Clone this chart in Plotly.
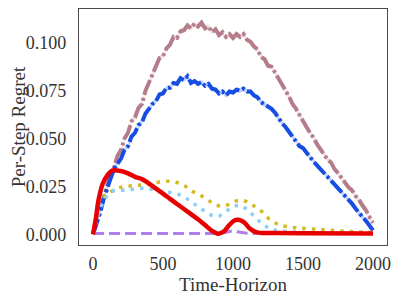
import plotly.graph_objects as go

# ---- data ----
t_noisy = list(range(0, 2001, 25))
mauve = [0.000, 0.006, 0.013, 0.019, 0.025, 0.032, 0.035, 0.041, 0.044, 0.050, 0.053, 0.059,
         0.061, 0.066, 0.068, 0.075, 0.079, 0.083, 0.087, 0.092, 0.093, 0.097, 0.099, 0.103,
         0.1025, 0.106, 0.1065, 0.109, 0.1075, 0.110, 0.1085, 0.1105, 0.1075, 0.1085, 0.1055,
         0.107, 0.104, 0.1055, 0.103, 0.1045, 0.1025, 0.1045, 0.103, 0.1045, 0.1015, 0.1005,
         0.098, 0.0965, 0.0925, 0.0915, 0.088, 0.0875, 0.0845, 0.081, 0.0785, 0.075, 0.072,
         0.068, 0.0655, 0.062, 0.0595, 0.056, 0.053, 0.0505, 0.047, 0.0445, 0.042, 0.039,
         0.0375, 0.034, 0.032, 0.029, 0.027, 0.0245, 0.023, 0.020, 0.018, 0.015, 0.0125,
         0.009, 0.006]
blue = [0.000, 0.005, 0.011, 0.018, 0.024, 0.029, 0.034, 0.037, 0.0395, 0.044, 0.046, 0.051,
        0.053, 0.057, 0.0585, 0.063, 0.0655, 0.068, 0.0695, 0.073, 0.0735, 0.0765, 0.0765,
        0.079, 0.0785, 0.0815, 0.0805, 0.0825, 0.079, 0.080, 0.0785, 0.0795, 0.0775, 0.0785,
        0.076, 0.0755, 0.0735, 0.0745, 0.0725, 0.0745, 0.074, 0.0755, 0.075, 0.076, 0.0745,
        0.0745, 0.0725, 0.0715, 0.069, 0.068, 0.0665, 0.0655, 0.0635, 0.0605, 0.058, 0.056,
        0.0535, 0.051, 0.049, 0.046, 0.045, 0.0425, 0.040, 0.038, 0.036, 0.034, 0.032, 0.030,
        0.0285, 0.026, 0.024, 0.022, 0.020, 0.018, 0.016, 0.0135, 0.011, 0.009, 0.007,
        0.0045, 0.002]

t_yellow = [0, 50, 100, 150, 200, 250, 300, 350, 400, 450, 500, 550, 600, 650, 700, 750, 800,
            850, 900, 950, 1000, 1050, 1100, 1150, 1200, 1250, 1300, 1350, 1400, 1450, 1500,
            1600, 1700, 1800, 1900, 2000]
yellow = [0.0, 0.016, 0.021, 0.023, 0.0245, 0.025, 0.0255, 0.0258, 0.026, 0.027, 0.0275,
          0.0277, 0.027, 0.0255, 0.0228, 0.021, 0.019, 0.0165, 0.0148, 0.015, 0.0168, 0.0178,
          0.017, 0.0148, 0.0122, 0.0085, 0.006, 0.0045, 0.0038, 0.0034, 0.0031, 0.0026,
          0.0021, 0.0016, 0.0012, 0.001]

t_light = [0, 50, 100, 150, 200, 250, 300, 350, 400, 450, 500, 550, 600, 650, 700, 750, 800,
           850, 900, 950, 1000, 1050, 1100, 1150, 1200, 1250, 1300, 1400, 1500, 1700, 2000]
light = [0.0, 0.013, 0.020, 0.0228, 0.023, 0.0232, 0.0236, 0.024, 0.0238, 0.023, 0.0222,
         0.0218, 0.021, 0.0195, 0.017, 0.0145, 0.012, 0.0098, 0.0095, 0.012, 0.0142, 0.0152,
         0.0128, 0.0095, 0.006, 0.0035, 0.0022, 0.0014, 0.001, 0.0008, 0.0007]

t_purple = [0, 200, 400, 600, 800, 900, 950, 1000, 1050, 1100, 1200, 1400, 1600, 1800, 2000]
purple = [0.0004, 0.0004, 0.0004, 0.0004, 0.0004, 0.0005, 0.0011, 0.0017, 0.0011, 0.0005,
          0.0004, 0.0004, 0.0004, 0.0004, 0.0004]

t_red = [0, 20, 40, 70, 100, 140, 200, 250, 300, 350, 400, 450, 500, 550, 600, 650, 700, 750,
         800, 850, 890, 930, 970, 1010, 1040, 1080, 1120, 1160, 1200, 1300, 1500, 2000]
red = [0.0, 0.008, 0.018, 0.0265, 0.0305, 0.0333, 0.033, 0.0318, 0.030, 0.0288, 0.0265,
       0.0238, 0.0212, 0.0185, 0.0158, 0.0132, 0.0105, 0.0078, 0.0048, 0.0018, 0.0003,
       0.0012, 0.0045, 0.0072, 0.0076, 0.0062, 0.003, 0.0012, 0.0007, 0.0006, 0.0005, 0.0004]

x_ticks = [0, 500, 1000, 1500, 2000]
y_ticks = [0.0, 0.025, 0.05, 0.075, 0.1]
y_tick_text = ["0.000", "0.025", "0.050", "0.075", "0.100"]

FONT = "Liberation Serif"

fig = go.Figure()


def band(x, y, color):
    up = [v + 0.0012 for v in y]
    lo = [v - 0.0012 for v in y]
    fig.add_trace(go.Scatter(x=x + x[::-1], y=up + lo[::-1], fill="toself",
                             fillcolor=color, line=dict(width=0), mode="lines",
                             hoverinfo="skip", showlegend=False))


band(t_noisy, mauve, "rgba(181,125,137,0.25)")
fig.add_trace(go.Scatter(x=t_noisy, y=mauve, mode="lines",
                         line=dict(color="rgb(181,125,137)", width=4,
                                   dash="16px,3px,3px,3px"), showlegend=False))
band(t_noisy, blue, "rgba(22,77,227,0.25)")
fig.add_trace(go.Scatter(x=t_noisy, y=blue, mode="lines",
                         line=dict(color="rgb(22,77,227)", width=4,
                                   dash="16px,3px,3px,3px"), showlegend=False))
fig.add_trace(go.Scatter(x=t_yellow, y=yellow, mode="lines",
                         line=dict(color="rgb(212,186,35)", width=3.5, shape="spline",
                                   dash="3.5px,6px"), showlegend=False))
fig.add_trace(go.Scatter(x=t_light, y=light, mode="lines",
                         line=dict(color="rgb(141,206,250)", width=3.5, shape="spline",
                                   dash="3.5px,6px"), showlegend=False))
fig.add_trace(go.Scatter(x=t_purple, y=purple, mode="lines",
                         line=dict(color="rgb(176,127,232)", width=3, shape="spline",
                                   dash="11px,5px"), showlegend=False))
fig.add_trace(go.Scatter(x=t_red, y=red, mode="lines",
                         line=dict(color="rgb(232,0,0)", width=4.5, shape="spline"),
                         showlegend=False))

axis_common = dict(showline=True, mirror=True, linecolor="#4a4a4a", linewidth=1.3,
                   showgrid=False, zeroline=False, ticks="", automargin=False,
                   tickfont=dict(family=FONT, size=18, color="#333333"))

fig.update_xaxes(range=[-100, 2100], tickvals=x_ticks, ticklabelstandoff=2,
                 title=dict(text="Time-Horizon", font=dict(family=FONT, size=19, color="#333333"),
                            standoff=1),
                 **axis_common)
fig.update_yaxes(range=[-0.0056, 0.1176], tickvals=y_ticks, ticktext=y_tick_text,
                 ticklabelstandoff=8,
                 title=dict(text="Per-Step Regret", font=dict(family=FONT, size=19, color="#333333"),
                            standoff=7),
                 **axis_common)

# The page body has an 8px margin, so the figure is sized to fit the 399x300 window.
fig.update_layout(width=391, height=292, margin=dict(l=71, r=12, t=1, b=55),
                  plot_bgcolor="white", paper_bgcolor="white")

fig.write_html("out.html")
